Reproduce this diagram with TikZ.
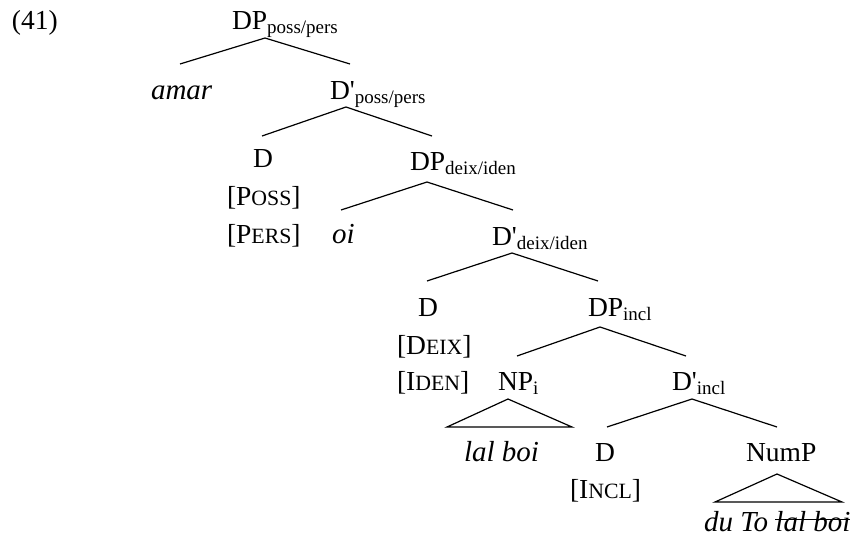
\documentclass[tikz,border=0pt]{standalone}
\usepackage{fontspec}
\setmainfont{Liberation Serif}
\newcommand\sbs[1]{\raisebox{-4pt}{\fontsize{19}{19}\selectfont #1}}
\newcommand\smc[1]{{\fontsize{21.8}{22}\selectfont #1}}
\begin{document}
\begin{tikzpicture}[x=1pt,y=-1pt,
  lbl/.style={anchor=base west, inner sep=0pt, outer sep=0pt, font=\fontsize{27.5}{30}\selectfont},
  itl/.style={anchor=base west, inner sep=0pt, outer sep=0pt, font=\fontsize{29}{32}\selectfont\itshape},
  br/.style={line width=1.2pt}]
\useasboundingbox (0,0) rectangle (857,541);
% labels
\node[lbl] (ex) at (12,29) {(41)};
\node[lbl] (dp1) at (232,29) {DP\sbs{poss/pers}};
\node[itl] (amar) at (151,99) {amar};
\node[lbl] (db1) at (330,99) {D\textquotesingle\sbs{poss/pers}};
\node[lbl] (d1) at (253,167) {D};
\node[lbl] (poss) at (227,205) {[P\smc{OSS}]};
\node[lbl] (pers) at (227,243) {[P\smc{ERS}]};
\node[lbl] (dp2) at (410,170) {DP\sbs{deix/iden}};
\node[itl] (oi) at (332,243) {oi};
\node[lbl] (db2) at (492,245) {D\textquotesingle\sbs{deix/iden}};
\node[lbl] (d2) at (418,316) {D};
\node[lbl] (deix) at (397,354) {[D\smc{EIX}]};
\node[lbl] (iden) at (397,390) {[I\smc{DEN}]};
\node[lbl] (dp3) at (588,316) {DP\sbs{incl}};
\node[lbl] (np) at (498,390) {NP\sbs{i}};
\node[lbl] (db3) at (672,390) {D\textquotesingle\sbs{incl}};
\node[itl] (lalboi) at (464,461) {lal boi};
\node[lbl] (d3) at (595,461) {D};
\node[lbl] (incl) at (570,498) {[I\smc{NCL}]};
\node[lbl] (nump) at (746,461) {NumP};
\node[itl] (duto) at (704,531) {du To};
\node[itl] (struck) at ([xshift=7.25pt]duto.base east) {lal boi};
\draw[br] ([yshift=11.5pt]struck.base west) -- ([yshift=11.5pt]struck.base east);
% branch points
\coordinate (a1) at (265,38);  \coordinate (l1) at (180,64);  \coordinate (r1) at (350,64);
\coordinate (a2) at (346,107); \coordinate (l2) at (262,136); \coordinate (r2) at (432,136);
\coordinate (a3) at (427,182); \coordinate (l3) at (341,210); \coordinate (r3) at (513,210);
\coordinate (a4) at (512,253); \coordinate (l4) at (427,281); \coordinate (r4) at (598,281);
\coordinate (a5) at (600,327); \coordinate (l5) at (517,356); \coordinate (r5) at (686,356);
\coordinate (a6) at (508,399); \coordinate (l6) at (447,427); \coordinate (r6) at (572,427);
\coordinate (a7) at (692,399); \coordinate (l7) at (607,427); \coordinate (r7) at (777,427);
\coordinate (a8) at (777,474); \coordinate (l8) at (715,502); \coordinate (r8) at (842,502);
\draw[br] (l1) -- (a1) -- (r1);
\draw[br] (l2) -- (a2) -- (r2);
\draw[br] (l3) -- (a3) -- (r3);
\draw[br] (l4) -- (a4) -- (r4);
\draw[br] (l5) -- (a5) -- (r5);
\draw[br] (l6) -- (a6) -- (r6) -- cycle;
\draw[br] (l7) -- (a7) -- (r7);
\draw[br] (l8) -- (a8) -- (r8) -- cycle;
\end{tikzpicture}
\end{document}
